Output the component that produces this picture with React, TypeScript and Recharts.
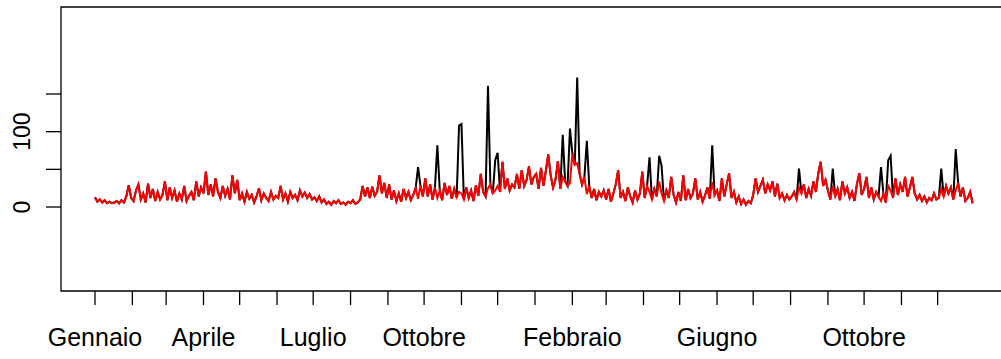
import { LineChart, Line, XAxis, YAxis, ReferenceArea } from "recharts";

// Daily series sampled every 2 days, two consecutive years (day 0 = 1 Jan)
const STEP_DAYS = 2;

// cleaned series, one row per month
const CLEAN = [
  13, 7, 10, 6, 9, 5, 7, 5, 6, 8, 5, 9, 6, 14, 29, 12,
  8, 22, 30, 10, 18, 6, 31, 12, 24, 8, 20, 10, 16, 34,
  9, 26, 12, 22, 7, 18, 10, 28, 8, 15, 20, 9, 34, 14, 26,
  18, 47, 16, 30, 14, 38, 20, 12, 28, 15, 24, 10, 42, 18, 36,
  9, 18, 7, 20, 11, 16, 6, 14, 25, 9, 18, 12, 8, 20, 10, 15,
  12, 28, 10, 18, 7, 20, 12, 16, 9, 22, 14, 19, 12, 17, 10,
  13, 8, 14, 6, 10, 4, 7, 3, 8, 5, 9, 4, 6, 3, 7,
  5, 9, 4, 6, 10, 28, 14, 26, 12, 27, 15, 20, 42, 18, 32, 12,
  30, 10, 22, 8, 18, 7, 24, 12, 20, 9, 16, 25, 11, 28, 14,
  38, 14, 30, 10, 26, 12, 22, 9, 32, 16, 28, 11, 24, 13, 20,
  18, 10, 26, 12, 22, 8, 29, 15, 44, 20, 14, 25, 30, 18, 22,
  28, 20, 60, 24, 38, 22, 30, 26, 44, 24, 49, 28, 36, 54, 30, 40,
  44, 24, 52, 28, 48, 70, 42, 26, 36, 61, 24, 40, 34, 28, 32,
  71, 56, 58, 44, 30, 40, 17, 28, 12, 24, 9, 20, 14, 22,
  10, 24, 7, 18, 30, 49, 12, 20, 8, 26, 14, 6, 22, 10, 18, 47,
  12, 28, 20, 10, 24, 14, 34, 18, 8, 22, 12, 40, 16, 6, 20,
  8, 42, 9, 24, 12, 18, 38, 10, 20, 7, 15, 26, 11, 33, 16,
  22, 8, 38, 14, 30, 45, 12, 20, 6, 14, 4, 10, 3, 8, 5,
  16, 38, 20, 28, 36, 18, 30, 22, 34, 14, 31, 12, 18, 9, 16, 10,
  14, 20, 10, 26, 18, 30, 12, 24, 15, 34, 20, 45, 60, 28, 36,
  22, 10, 28, 14, 24, 9, 34, 18, 26, 12, 20, 8, 30, 45, 16,
  24, 40, 12, 26, 10, 20, 14, 8, 18, 6, 28, 22, 12, 38, 16, 30,
  20, 40, 14, 26, 40, 18, 10, 16, 8, 14, 6, 12, 9, 18, 10,
  12, 24, 14, 28, 18, 26, 10, 22, 32, 14, 26, 8, 12, 20, 5,
];

// raw series differs from the cleaned one only on these days
const SPIKE_DAYS = [268, 284, 302, 304, 326, 332, 334, 388, 394, 400, 408, 460, 468, 470, 512, 584, 612, 652, 658, 660, 702, 714];
const SPIKE_VALUES = [53, 82, 108, 110, 161, 62, 72, 96, 104, 172, 88, 66, 68, 55, 82, 51, 51, 53, 62, 68, 51, 77];

// first day of each month
const MONTH_STARTS = [0, 31, 59, 90, 120, 151, 181, 212, 243, 273, 304, 334, 365, 396, 424, 455, 485, 516, 546, 577, 608, 638, 669, 699];
const MONTH_LABELS = ["Gennaio", "", "", "Aprile", "", "", "Luglio", "", "", "Ottobre", "", "", "", "Febbraio", "", "", "", "Giugno", "", "", "", "Ottobre", "", ""];

const Y_TICKS = [0, 50, 100, 150];
const Y_LABELS = ["0", "", "100", ""];

const spikeAt = new Map(SPIKE_DAYS.map((d, i) => [d, SPIKE_VALUES[i]]));
const rows = CLEAN.map((v, i) => {
  const day = i * STEP_DAYS;
  return { day, clean: v, raw: spikeAt.get(day) ?? v };
});

const FONT = "'Liberation Sans', Arial, Helvetica, sans-serif";

function MonthTick(props: any) {
  const { x, payload } = props;
  const label = MONTH_LABELS[MONTH_STARTS.indexOf(payload.value)];
  if (!label) return <g />;
  return (
    <text x={x} y={346} textAnchor="middle" fontSize={25} fontFamily={FONT} fill="#000">
      {label}
    </text>
  );
}

function ValueTick(props: any) {
  const { y, payload } = props;
  const label = Y_LABELS[Y_TICKS.indexOf(payload.value)];
  if (!label) return <g />;
  return (
    <text
      x={30}
      y={y}
      textAnchor="middle"
      fontSize={23}
      fontFamily={FONT}
      fill="#000"
      transform={`rotate(-90, 30, ${y})`}
    >
      {label}
    </text>
  );
}

export default function App() {
  return (
    <div style={{ position: "absolute", left: 0, top: 0, width: 1001, height: 359, overflow: "hidden", background: "#fff" }}>
      <LineChart width={1012} height={359} data={rows} margin={{ top: 7, right: 3, bottom: 0, left: 0 }}>
        <XAxis
          dataKey="day"
          type="number"
          domain={[-28.2, 758.2]}
          allowDataOverflow
          ticks={MONTH_STARTS}
          interval={0}
          height={68}
          axisLine={false}
          tickSize={14}
          tickLine={{ stroke: "#000", strokeWidth: 1.3 }}
          tick={<MonthTick />}
        />
        <YAxis
          type="number"
          domain={[-111.5, 265.5]}
          allowDataOverflow
          ticks={Y_TICKS}
          interval={0}
          width={61}
          axisLine={false}
          tickSize={15}
          tickLine={{ stroke: "#000", strokeWidth: 1.3 }}
          tick={<ValueTick />}
        />
        <ReferenceArea x1={-28.2} x2={758.2} y1={-111.5} y2={265.5} fill="none" stroke="#000" strokeWidth={1.3} />
        <Line dataKey="raw" type="linear" stroke="#000" strokeWidth={2} dot={false} isAnimationActive={false} />
        <Line dataKey="clean" type="linear" stroke="#ff0000" strokeWidth={2} dot={false} isAnimationActive={false} />
      </LineChart>
    </div>
  );
}
